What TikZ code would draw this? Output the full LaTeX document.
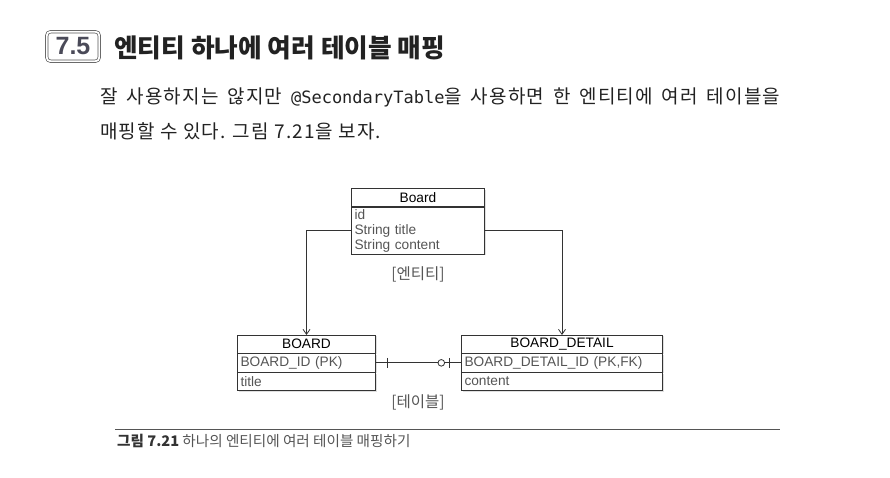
\documentclass[tikz,border=0pt]{standalone}
\usepackage{fontspec}
\usepackage{tikz}
\usetikzlibrary{positioning,calc,arrows.meta,shadows}
\setmainfont{Liberation Sans}
\newfontfamily\krfont{Noto Sans CJK KR}
\newfontfamily\krbody[LetterSpace=6]{Noto Sans CJK KR}
\newfontfamily\codefont{DejaVu Sans Mono}
\definecolor{linegray}{HTML}{333333}
\definecolor{rowgray}{HTML}{555555}
\definecolor{badgegray}{HTML}{4A4A58}
\definecolor{textdark}{HTML}{222222}
\tikzset{
  tblhead/.style={draw=linegray, fill=white, inner sep=0pt, minimum height=18pt,
    font=\fontsize{13.7}{15}\selectfont, text=black,
    drop shadow={shadow xshift=1.2pt, shadow yshift=-1.2pt, opacity=0.25}},
  tblrow/.style={draw=linegray, fill=white, inner xsep=3pt, inner ysep=0pt, align=left,
    font=\fontsize{13.7}{15}\selectfont, text=rowgray,
    drop shadow={shadow xshift=1.2pt, shadow yshift=-1.2pt, opacity=0.25}},
  relline/.style={draw=linegray, line width=0.8pt},
  tbllabel/.style={font=\krfont\fontsize{15.5}{17}\selectfont, text=rowgray},
  badge/.style={draw=rowgray, double, double distance=1.8pt, line width=0.7pt,
    rounded corners=4pt, minimum width=52.6pt, minimum height=29.6pt, inner sep=0pt,
    font=\bfseries\fontsize{25}{28}\selectfont, text=badgegray},
}

\begin{document}
\begin{tikzpicture}[x=1pt,y=-1pt]
    \useasboundingbox (0,0) rectangle (890,478);
    % heading
    \node[badge] (secnum) at (73,46.5) {7.5};
    \node[anchor=west, inner sep=0pt, text=textdark,
        font=\krfont\bfseries\fontsize{25.7}{30}\selectfont]
        (sectitle) at (114,48) {엔티티 하나에 여러 테이블 매핑};
    % paragraph
    \node[anchor=west, inner sep=0pt, text=textdark, font=\krbody\fontsize{19}{22}\selectfont]
        (paraone) at (100,97)
        {\makebox[680pt][s]{잘 사용하지는 않지만 {\codefont\fontsize{17}{20}\selectfont @SecondaryTable}을 사용하면 한 엔티티에 여러 테이블을}};
    \node[anchor=west, inner sep=0pt, text=textdark, font=\krbody\fontsize{19}{22}\selectfont]
        (paratwo) at (100,131) {매핑할 수 있다. 그림 7.21을 보자.};
    % entity
    \node[tblhead, minimum width=133pt, anchor=north] (boardhead) at (418,188.5) {Board};
    \node[tblrow, minimum width=133pt, text width=127pt, minimum height=47pt, below=0pt of boardhead]
        (boardbody) {id\\String title\\String content};
    \node[tbllabel] (entlabel) at (418,274) {[엔티티]};
    % tables
    \node[tblhead, minimum width=138pt, anchor=north] (tblboard) at (306.5,335) {BOARD};
    \node[tblrow, minimum width=138pt, text width=132pt, minimum height=18.5pt, below=0pt of tblboard]
        (boardid) {BOARD\_ID (PK)};
    \node[tblrow, minimum width=138pt, text width=132pt, minimum height=18pt, below=0pt of boardid]
        (boardtitle) {title};
    \node[tblhead, minimum width=201pt, anchor=north] (tbldetail) at (562,335) {BOARD\_DETAIL};
    \node[tblrow, minimum width=201pt, text width=195pt, minimum height=18.5pt, below=0pt of tbldetail]
        (detailid) {BOARD\_DETAIL\_ID (PK,FK)};
    \node[tblrow, minimum width=201pt, text width=195pt, minimum height=18pt, below=0pt of detailid]
        (detailcontent) {content};
    \node[tbllabel] (tbllabel) at (418,402) {[테이블]};
    % mapping arrows
    \draw[relline, -{Straight Barb[length=5pt,width=7pt]}]
        (boardbody.west) -| (tblboard.north);
    \draw[relline, -{Straight Barb[length=5pt,width=7pt]}]
        (boardbody.east) -| (tbldetail.north);
    % one to zero-or-one
    \draw[relline] (boardid.east) -- (detailid.west);
    \draw[relline] ($(boardid.east)+(12,-5)$) -- ($(boardid.east)+(12,5)$);
    \draw[relline] ($(detailid.west)+(-12,-5)$) -- ($(detailid.west)+(-12,5)$);
    \filldraw[relline, fill=white] ($(detailid.west)+(-20,0)$) circle[radius=3.3];
    % caption
    \draw[rowgray, line width=1pt] (115,429) -- (780,429);
    \node[anchor=west, inner sep=0pt, text=rowgray, font=\krfont\fontsize{14.6}{17}\selectfont]
        (figcap) at (117,441) {{\bfseries\color{linegray}그림 7.21} 하나의 엔티티에 여러 테이블 매핑하기};
\end{tikzpicture}
\end{document}
